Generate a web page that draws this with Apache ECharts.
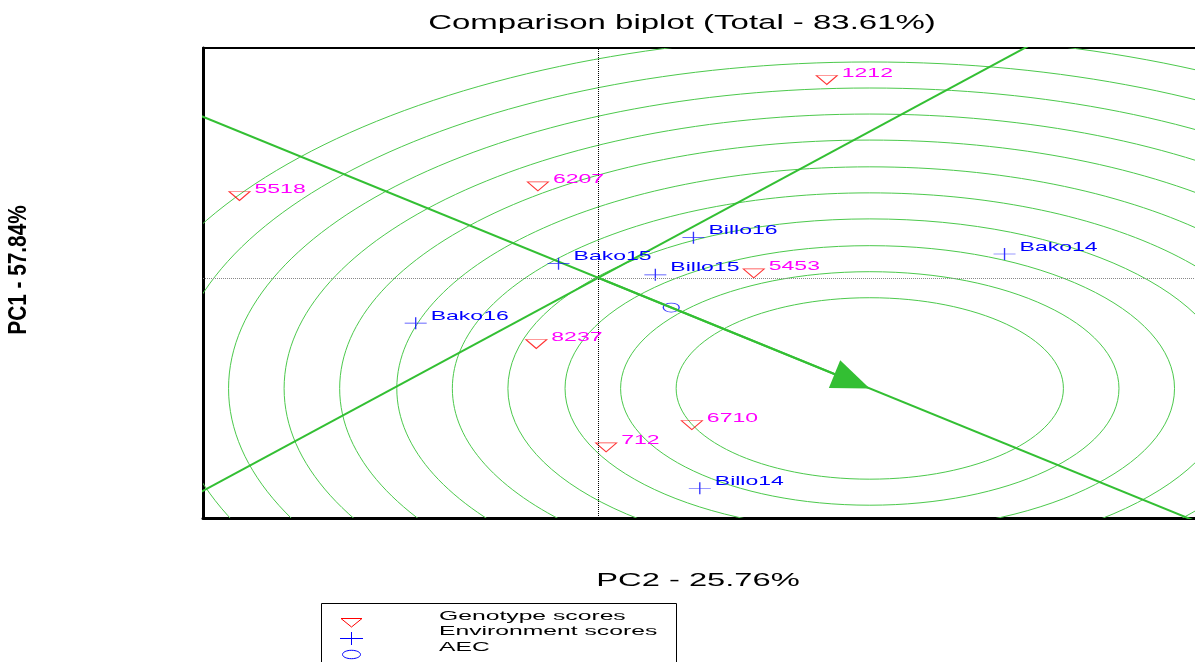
<!DOCTYPE html>
<html>
<head>
<meta charset="utf-8">
<script src="https://cdn.jsdelivr.net/npm/echarts@6/dist/echarts.min.js"></script>
<style>
  html, body { margin: 0; padding: 0; background: #fff; }
  #chart { width: 1195px; height: 662px; }
</style>
</head>
<body>
<div id="chart"></div>
<script>
// GGE comparison biplot: genotype and environment scores (PC2 across, PC1 up)
const genotypeNames = ['1212', '5518', '6207', '5453', '8237', '6710', '712'];
const genotypePC2 = [1.44, -2.26, -0.38, 0.98, -0.39, 0.59, 0.05];
const genotypePC1 = [2.66, 1.10, 1.23, 0.06, -0.89, -1.98, -2.28];

const envNames = ['Billo16', 'Bako14', 'Bako15', 'Billo15', 'Bako16', 'Billo14'];
const envPC2 = [0.60, 2.56, -0.25, 0.36, -1.15, 0.64];
const envPC1 = [0.54, 0.32, 0.19, 0.04, -0.61, -2.83];

// average environment coordinate and the ideal genotype on its axis
const aecPoint = [0.46, -0.40];
const idealPoint = [1.711, -1.488];
// concentric rings around the ideal genotype
const ringRadii = [1.22, 1.57, 1.92, 2.28, 2.63, 2.98, 3.34, 3.69, 4.04, 4.39, 4.75];

const titleText = 'Comparison biplot (Total - 83.61%)';
const xAxisTitle = 'PC2 - 25.76%';
const yAxisTitle = 'PC1 - 57.84%';
const legendLabels = ['Genotype scores', 'Environment scores', 'AEC'];

const FONT = 'Liberation Sans, Arial, sans-serif';
const GREEN_RING = '#4cc94c';
const GREEN_AXIS = '#33bf33';

const chart = echarts.init(document.getElementById('chart'), null, { renderer: 'canvas' });

function pointLabels(xs, ys, names, color) {
  return {
    type: 'custom',
    coordinateSystem: 'cartesian2d',
    silent: true,
    z: 6,
    encode: { x: 0, y: 1 },
    data: xs.map((x, i) => [x, ys[i]]),
    renderItem: (params, api) => {
      const p = api.coord([api.value(0), api.value(1)]);
      return {
        type: 'text',
        x: p[0] + 15,
        y: p[1] - 7,
        scaleX: 1.77,
        style: {
          text: names[params.dataIndex],
          fill: color,
          fontSize: 13,
          fontFamily: FONT,
          align: 'left',
          verticalAlign: 'middle'
        }
      };
    }
  };
}

// long segments through the origin, clipped by the grid
const aecLineData = [[-10 * aecPoint[0], -10 * aecPoint[1]], [10 * aecPoint[0], 10 * aecPoint[1]]];
const perpLineData = [[10 * aecPoint[1], -10 * aecPoint[0]], [-10 * aecPoint[1], 10 * aecPoint[0]]];
// arrow head sits just short of the ideal point so its tip lands on it
const arrowEnd = [idealPoint[0] * 0.935, idealPoint[1] * 0.935];

const option = {
  animation: false,
  backgroundColor: '#fff',
  grid: { left: 203, top: 48, right: 0, bottom: 144, containLabel: false },
  xAxis: [
    {
      type: 'value', min: -2.49, max: 3.76, position: 'bottom',
      axisLine: { show: true, onZero: false, lineStyle: { color: '#000', width: 3 } },
      axisTick: { show: false }, axisLabel: { show: false }, splitLine: { show: false }
    },
    {
      type: 'value', min: -2.49, max: 3.76, position: 'top',
      axisLine: { show: true, onZero: false, lineStyle: { color: '#000', width: 2 } },
      axisTick: { show: false }, axisLabel: { show: false }, splitLine: { show: false }
    }
  ],
  yAxis: {
    type: 'value', min: -3.23, max: 3.09, position: 'left',
    axisLine: { show: true, onZero: false, lineStyle: { color: '#000', width: 3 } },
    axisTick: { show: false }, axisLabel: { show: false }, splitLine: { show: false }
  },
  series: [
    {
      // rings around the ideal genotype
      type: 'custom',
      coordinateSystem: 'cartesian2d',
      silent: true,
      z: 1,
      encode: { x: 0, y: 1 },
      data: ringRadii.map(r => [idealPoint[0], idealPoint[1], r]),
      renderItem: (params, api) => {
        const c = api.coord([api.value(0), api.value(1)]);
        const r = api.value(2);
        const s = api.size([r, r]);
        const cs = params.coordSys;
        return {
          type: 'group',
          clipPath: { type: 'rect', shape: { x: cs.x, y: cs.y, width: cs.width, height: cs.height } },
          children: [{
            type: 'ellipse',
            shape: { cx: c[0], cy: c[1], rx: s[0], ry: s[1] },
            style: { fill: 'none', stroke: GREEN_RING, lineWidth: 1 }
          }]
        };
      }
    },
    {
      // AEC abscissa with arrow toward the ideal genotype, plus origin reference lines
      type: 'line',
      silent: true,
      z: 2,
      data: aecLineData,
      showSymbol: false,
      lineStyle: { color: GREEN_AXIS, width: 2 },
      markLine: {
        silent: true,
        animation: false,
        label: { show: false },
        symbol: 'none',
        data: [
          { xAxis: 0, lineStyle: { type: 'dotted', color: '#000', width: 1 } },
          { yAxis: 0, lineStyle: { type: 'dotted', color: '#888', width: 1 } },
          [
            { coord: [0, 0], symbol: 'none', lineStyle: { color: GREEN_AXIS, width: 2, type: 'solid' } },
            { coord: arrowEnd, symbol: 'triangle', symbolSize: [30, 38], itemStyle: { color: '#35c935' } }
          ]
        ]
      }
    },
    {
      // AEC ordinate through the origin
      type: 'line',
      silent: true,
      z: 2,
      data: perpLineData,
      showSymbol: false,
      lineStyle: { color: GREEN_AXIS, width: 2 }
    },
    {
      name: 'Genotype scores',
      type: 'scatter',
      z: 4,
      data: genotypePC2.map((x, i) => [x, genotypePC1[i]]),
      symbol: 'triangle',
      symbolRotate: 180,
      symbolSize: [21, 9],
      itemStyle: { color: 'rgba(0,0,0,0)', borderColor: '#ff0000', borderWidth: 1 }
    },
    {
      name: 'Environment scores',
      type: 'scatter',
      z: 4,
      data: envPC2.map((x, i) => [x, envPC1[i]]),
      symbol: 'path://M0,6H22M11,0V12',
      symbolSize: [22, 12],
      itemStyle: { color: 'rgba(0,0,0,0)', borderColor: '#0000ff', borderWidth: 1 }
    },
    {
      name: 'AEC',
      type: 'scatter',
      z: 4,
      data: [aecPoint],
      symbol: 'circle',
      symbolSize: [16, 9],
      itemStyle: { color: 'rgba(0,0,0,0)', borderColor: '#0000ff', borderWidth: 1 }
    },
    pointLabels(genotypePC2, genotypePC1, genotypeNames, '#ff00ff'),
    pointLabels(envPC2, envPC1, envNames, '#0000ff')
  ],
  graphic: [
    {
      type: 'text', x: 682, y: 23, scaleX: 1.57, silent: true,
      style: { text: titleText, fill: '#000', fontSize: 21, fontFamily: FONT, align: 'center', verticalAlign: 'middle' }
    },
    {
      type: 'text', x: 698, y: 581, scaleX: 1.72, silent: true,
      style: { text: xAxisTitle, fill: '#000', fontSize: 19, fontFamily: FONT, align: 'center', verticalAlign: 'middle' }
    },
    {
      type: 'text', x: 19, y: 270, rotation: Math.PI / 2, scaleX: 1.04, scaleY: 1.3, silent: true,
      style: { text: yAxisTitle, fill: '#000', fontSize: 20, fontWeight: 'bold', fontFamily: FONT, align: 'center', verticalAlign: 'middle' }
    },
    // legend box
    {
      type: 'rect', silent: true,
      shape: { x: 321.5, y: 603.5, width: 355, height: 80 },
      style: { fill: 'none', stroke: '#000', lineWidth: 1 }
    },
    {
      type: 'polygon', silent: true,
      shape: { points: [[341, 618.5], [362, 618.5], [351.5, 627]] },
      style: { fill: 'none', stroke: '#ff0000', lineWidth: 1 }
    },
    {
      type: 'line', silent: true,
      shape: { x1: 340, y1: 638.5, x2: 363, y2: 638.5 },
      style: { stroke: '#0000ff', lineWidth: 1 }
    },
    {
      type: 'line', silent: true,
      shape: { x1: 351.5, y1: 632, x2: 351.5, y2: 645 },
      style: { stroke: '#0000ff', lineWidth: 1 }
    },
    {
      type: 'ellipse', silent: true,
      shape: { cx: 351.5, cy: 654.5, rx: 9, ry: 4.2 },
      style: { fill: 'none', stroke: '#0000ff', lineWidth: 1 }
    },
    {
      type: 'text', x: 439, y: 616, scaleX: 1.9, silent: true,
      style: { text: legendLabels[0], fill: '#000', fontSize: 13, fontFamily: FONT, align: 'left', verticalAlign: 'middle' }
    },
    {
      type: 'text', x: 439, y: 631.5, scaleX: 1.9, silent: true,
      style: { text: legendLabels[1], fill: '#000', fontSize: 13, fontFamily: FONT, align: 'left', verticalAlign: 'middle' }
    },
    {
      type: 'text', x: 439, y: 647, scaleX: 1.9, silent: true,
      style: { text: legendLabels[2], fill: '#000', fontSize: 13, fontFamily: FONT, align: 'left', verticalAlign: 'middle' }
    }
  ]
};

chart.setOption(option);
</script>
</body>
</html>
